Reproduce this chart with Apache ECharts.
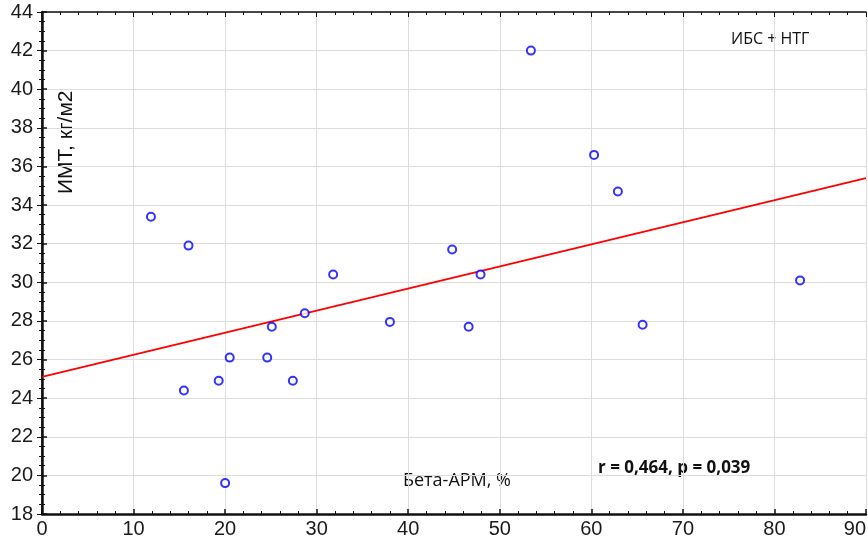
<!DOCTYPE html>
<html>
<head>
<meta charset="utf-8">
<script src="https://cdn.jsdelivr.net/npm/echarts@6/dist/echarts.min.js"></script>
<style>
html,body{margin:0;padding:0;background:#fff;}
#chart{width:868px;height:538px;}
</style>
</head>
<body>
<div id="chart"></div>
<script>
// Бета-АРМ, % vs ИМТ
var betaArm = [11.9, 16.0, 15.5, 19.3, 20.5, 20.0, 24.6, 25.1, 27.4, 28.7, 31.8, 38.0, 44.8, 46.6, 47.9, 53.4, 60.3, 62.9, 65.6, 82.8];
var imt     = [33.4, 31.9, 24.4, 24.9, 26.1, 19.6, 26.1, 27.7, 24.9, 28.4, 30.4, 27.95, 31.7, 27.7, 30.4, 42.0, 36.6, 34.7, 27.8, 30.1];

// regression line ends
var fitX = [0, 90];
var fitY = [25.1, 35.4];

var myChart = echarts.init(document.getElementById("chart"));

var pts = [];
for (let i = 0; i < betaArm.length; i++) {
	pts.push([betaArm[i], imt[i]]);
}
var fit = [];
for (let i = 0; i < fitX.length; i++) {
	fit.push([fitX[i], fitY[i]]);
}

var lblFont = {color: '#1a1a1a', fontSize: 20, fontFamily: 'Liberation Sans, Arial, sans-serif'};

let option = {
	animation: false,
	grid: {left: 42, top: 12, right: 2, bottom: 24, containLabel: false, outerBoundsMode: 'none'},
	xAxis: [{
		type: 'value', min: 0, max: 90, interval: 10,
		axisLine: {onZero: false, lineStyle: {color: '#111', width: 2.5}},
		axisTick: {inside: true, length: 5, lineStyle: {color: '#111', width: 1.5}},
		minorTick: {show: true, splitNumber: 5, length: 3, lineStyle: {color: '#111'}},
		axisLabel: Object.assign({margin: 5, alignMaxLabel: 'right'}, lblFont),
		splitLine: {show: true, lineStyle: {color: '#dcdcdc', width: 1}}
	}, {
		type: 'value', min: 0, max: 90, interval: 10, position: 'top',
		axisLine: {show: true, lineStyle: {color: '#111', width: 1.5}},
		axisTick: {show: true, inside: true, length: 5, lineStyle: {color: '#111'}},
		minorTick: {show: true, splitNumber: 5, length: 3, lineStyle: {color: '#111'}},
		axisLabel: {show: false},
		splitLine: {show: false}
	}],
	yAxis: [{
		type: 'value', min: 18, max: 44, interval: 2,
		axisLine: {show: true, onZero: false, lineStyle: {color: '#111', width: 2.5}},
		axisTick: {show: true, inside: true, length: 5, lineStyle: {color: '#111', width: 1.5}},
		minorTick: {show: true, splitNumber: 4, length: 3, lineStyle: {color: '#111'}},
		axisLabel: Object.assign({margin: 9}, lblFont),
		splitLine: {show: true, lineStyle: {color: '#dcdcdc', width: 1}}
	}, {
		type: 'value', min: 18, max: 44, interval: 2, position: 'right',
		axisLine: {show: true, lineStyle: {color: '#111', width: 1.5}},
		axisTick: {show: true, inside: true, length: 5, lineStyle: {color: '#111'}},
		minorTick: {show: true, splitNumber: 4, length: 3, lineStyle: {color: '#111'}},
		axisLabel: {show: false},
		splitLine: {show: false}
	}],
	graphic: [
		{type: 'text', left: 731, top: 31, style: {text: 'ИБС + НТГ', fill: '#111', fontSize: 16, fontFamily: 'Open Sans'}},
		{type: 'text', left: 403, top: 472, style: {text: 'Бета-АРМ, %', fill: '#111', fontSize: 18, fontFamily: 'Open Sans'}},
		{type: 'text', left: 598, top: 460, style: {text: 'r = 0,464, p = 0,039', fill: '#111', fontSize: 17, fontWeight: 'bold', fontFamily: 'Open Sans'}},
		{type: 'text', x: 56, y: 194, rotation: Math.PI / 2, style: {text: 'ИМТ, кг/м2', fill: '#111', fontSize: 21, fontFamily: 'Liberation Sans'}}
	],
	series: [{
		type: 'line',
		data: fit,
		symbol: 'none',
		lineStyle: {color: '#ff0000', width: 1.8},
		z: 2
	}, {
		type: 'scatter',
		data: pts,
		symbol: 'circle',
		symbolSize: 8,
		itemStyle: {color: '#fff', borderColor: '#0000ff', borderWidth: 2},
		z: 3
	}]
};

myChart.setOption(option);
</script>
</body>
</html>
